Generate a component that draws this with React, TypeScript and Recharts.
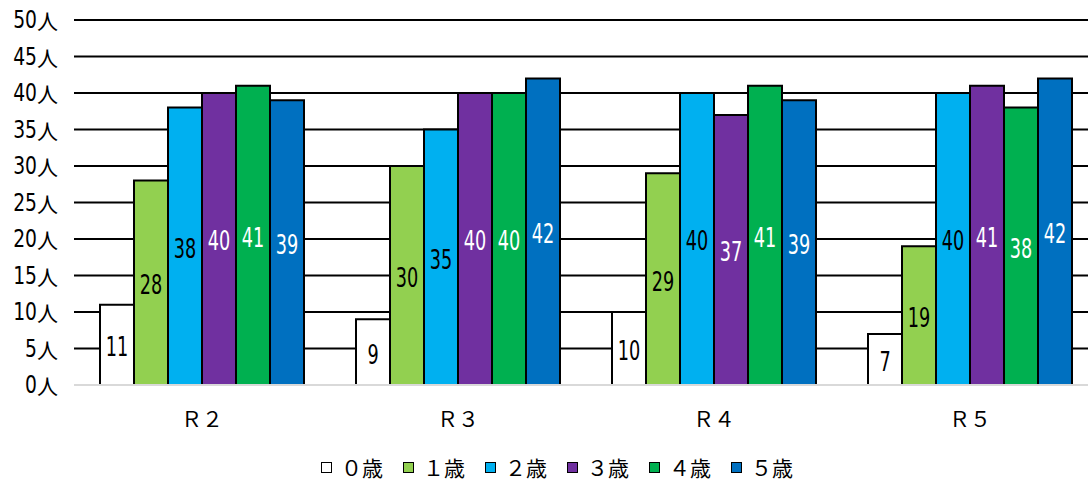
import React from 'react';
import { BarChart, Bar, XAxis, YAxis, CartesianGrid, Legend, LabelList, ReferenceLine } from 'recharts';

// 年度別・年齢別の在籍人数
const YEARS = ['Ｒ２', 'Ｒ３', 'Ｒ４', 'Ｒ５'];
const AGE0 = [11, 9, 10, 7];
const AGE1 = [28, 30, 29, 19];
const AGE2 = [38, 35, 40, 40];
const AGE3 = [40, 40, 37, 41];
const AGE4 = [41, 40, 41, 38];
const AGE5 = [39, 42, 39, 42];
const Y_TICKS = [0, 5, 10, 15, 20, 25, 30, 35, 40, 45, 50];
const Y_MAX = 50;

const SERIES = [
  { key: 'age0', name: '０歳', color: '#FFFFFF', label: '#000000', values: AGE0 },
  { key: 'age1', name: '１歳', color: '#92D050', label: '#000000', values: AGE1 },
  { key: 'age2', name: '２歳', color: '#00B0F0', label: '#000000', values: AGE2 },
  { key: 'age3', name: '３歳', color: '#7030A0', label: '#FFFFFF', values: AGE3 },
  { key: 'age4', name: '４歳', color: '#00B050', label: '#FFFFFF', values: AGE4 },
  { key: 'age5', name: '５歳', color: '#0070C0', label: '#FFFFFF', values: AGE5 },
];

const data = YEARS.map((year, i) => {
  const row: Record<string, string | number> = { year };
  SERIES.forEach(s => {
    row[s.key] = s.values[i];
  });
  return row;
});

const SANS = '"DejaVu Sans", sans-serif';
const JP = '"Noto Sans CJK JP", sans-serif';

// narrow digits: DejaVu squeezed horizontally
const makeBarLabel = (color: string) => (props: any) => {
  const { x, y, width, height, value } = props;
  const cx = Number(x) + Number(width) / 2;
  const cy = Number(y) + Number(height) / 2;
  return (
    <text
      transform={`translate(${cx},${cy + 2}) scale(0.68,1)`}
      x={0}
      y={0}
      textAnchor="middle"
      dominantBaseline="central"
      fill={color}
      fontSize={26}
      fontFamily={SANS}
    >
      {value}
    </text>
  );
};

const YTick = (props: any) => {
  const { x, y, payload } = props;
  return (
    <g>
      <text
        transform={`translate(${x - 21},${y}) scale(0.78,1)`}
        textAnchor="end"
        dominantBaseline="central"
        fill="#000"
        fontSize={24}
        fontFamily={SANS}
      >
        {payload.value}
      </text>
      <text
        x={x}
        y={y}
        textAnchor="end"
        dominantBaseline="central"
        fill="#000"
        fontSize={21}
        fontFamily={JP}
      >
        人
      </text>
    </g>
  );
};

const renderLegend = () => (
  <div
    style={{
      height: 48,
      boxSizing: 'border-box',
      display: 'flex',
      justifyContent: 'center',
      alignItems: 'flex-end',
      paddingBottom: 1,
      paddingLeft: 36,
      fontFamily: JP,
      fontSize: 21,
      color: '#000',
    }}
  >
    {SERIES.map(s => (
      <span key={s.key} style={{ display: 'flex', alignItems: 'center', marginRight: 20 }}>
        <span
          style={{
            width: 9,
            height: 9,
            border: '1.5px solid #000',
            background: s.color,
            marginRight: 9,
          }}
        />
        {s.name}
      </span>
    ))}
  </div>
);

// gridlines everywhere except the baseline, which stays light grey
const gridRows = ({ yAxis, offset }: any) => {
  const scale = yAxis && typeof yAxis.scale === 'function' ? yAxis.scale : null;
  return Y_TICKS.filter(t => t > 0).map(t =>
    scale ? scale(t) : offset.top + offset.height * (1 - t / Y_MAX)
  );
};

export default function App() {
  return (
    <div style={{ position: 'absolute', left: 0, top: 0, width: 1088, height: 483, overflow: 'hidden', background: '#fff' }}>
      <BarChart
        width={1100}
        height={483}
        data={data}
        margin={{ top: 20, right: 2, left: 0, bottom: 0 }}
        barCategoryGap={26}
        barGap={0}
      >
        <CartesianGrid
          vertical={false}
          stroke="#000"
          strokeWidth={2}
          horizontalCoordinatesGenerator={gridRows}
        />
        <XAxis
          dataKey="year"
          height={50}
          tickLine={false}
          tickSize={0}
          tickMargin={27}
          axisLine={false}
          tick={{ fill: '#000', fontSize: 21, fontFamily: JP }}
        />
        <YAxis
          width={74}
          domain={[0, Y_MAX]}
          ticks={Y_TICKS}
          interval={0}
          axisLine={false}
          tickLine={false}
          tickSize={0}
          tickMargin={16}
          tick={<YTick />}
        />
        <ReferenceLine y={0} stroke="#D9D9D9" strokeWidth={2} />
        <Legend verticalAlign="bottom" content={renderLegend} />
        {SERIES.map(s => (
          <Bar
            key={s.key}
            dataKey={s.key}
            name={s.name}
            fill={s.color}
            stroke="#000"
            strokeWidth={2}
            isAnimationActive={false}
          >
            <LabelList dataKey={s.key} content={makeBarLabel(s.label)} />
          </Bar>
        ))}
      </BarChart>
    </div>
  );
}
